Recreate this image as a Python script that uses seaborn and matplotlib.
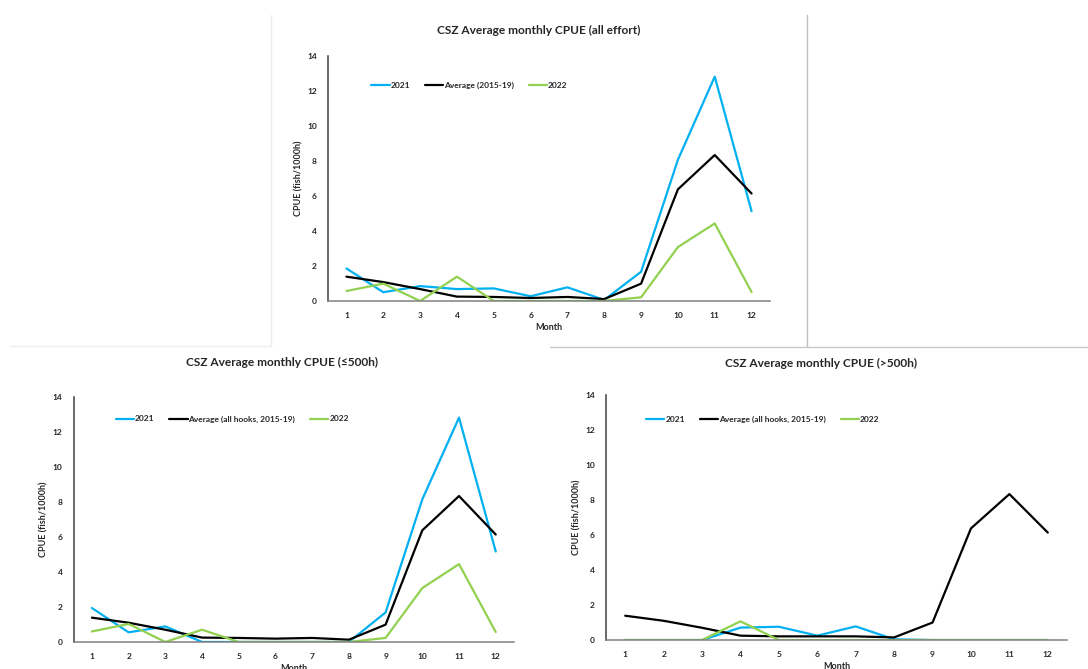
import pandas as pd
import seaborn as sns
import matplotlib.pyplot as plt
from matplotlib.lines import Line2D

months = list(range(1, 13))
colors = ['#00B0F0', '#000000', '#92D050']

# all effort
all_2021 = [1.86, 0.50, 0.85, 0.68, 0.72, 0.27, 0.78, 0.06, 1.67, 8.07, 12.82, 5.13]
all_avg = [1.39, 1.08, 0.68, 0.25, 0.23, 0.17, 0.23, 0.11, 0.99, 6.38, 8.34, 6.14]
all_2022 = [0.57, 0.99, 0.00, 1.39, 0.00, 0.00, 0.00, 0.00, 0.21, 3.08, 4.43, 0.51]

# <=500 hooks
low_2021 = [1.94, 0.55, 0.89, 0.00, 0.00, 0.00, 0.00, 0.00, 1.69, 8.15, 12.82, 5.17]
low_avg = [1.39, 1.10, 0.70, 0.25, 0.23, 0.19, 0.23, 0.13, 0.99, 6.38, 8.34, 6.14]
low_2022 = [0.60, 1.03, 0.00, 0.70, 0.00, 0.00, 0.00, 0.00, 0.23, 3.08, 4.45, 0.57]

# >500 hooks
high_2021 = [0.00, 0.00, 0.00, 0.71, 0.76, 0.25, 0.78, 0.04, 0.00, 0.00, 0.00, 0.00]
high_avg = [1.39, 1.10, 0.70, 0.25, 0.21, 0.21, 0.21, 0.15, 1.00, 6.38, 8.34, 6.14]
high_2022 = [0.00, 0.00, 0.00, 1.07, 0.00, 0.00, 0.00, 0.00, 0.00, 0.00, 0.00, 0.00]

sns.set_style('white')
plt.rcParams['font.family'] = ['Lato', 'DejaVu Sans']
plt.rcParams['font.weight'] = 'bold'


def make_df(a, b, c, avg_label):
    rows = []
    for name, vals in zip(['2021', avg_label, '2022'], [a, b, c]):
        for m, v in zip(months, vals):
            rows.append({'Month': m, 'CPUE': v, 'Series': name})
    return pd.DataFrame(rows)


def draw_panel(ax, df, avg_label, legend_xy):
    order = ['2021', avg_label, '2022']
    sns.lineplot(data=df, x='Month', y='CPUE', hue='Series', hue_order=order,
                 palette=colors, linewidth=1.6, ax=ax)
    ax.set_xlim(0.5, 12.5)
    ax.set_ylim(0, 14)
    ax.set_xticks(months)
    ax.set_yticks(range(0, 15, 2))
    ax.tick_params(length=0, labelsize=6, colors='#262626', pad=8)
    for lab in ax.get_xticklabels() + ax.get_yticklabels():
        lab.set_fontweight('bold')
    ax.set_xlabel('Month', fontsize=6.5, fontweight='bold', color='#262626', labelpad=3)
    ax.set_ylabel('CPUE (fish/1000h)', fontsize=6.5, fontweight='bold', color='#262626', labelpad=3)
    for s in ['top', 'right']:
        ax.spines[s].set_visible(False)
    ax.spines['left'].set_color('#404040')
    ax.spines['bottom'].set_color('#808080')
    ax.spines['left'].set_linewidth(1.1)
    ax.spines['bottom'].set_linewidth(1.1)
    ax.legend(loc='center', bbox_to_anchor=legend_xy, ncol=3, frameon=False,
              handlelength=2.2, handletextpad=0.1, columnspacing=1.8,
              prop={'size': 6, 'weight': 'bold'})


fig = plt.figure(figsize=(10.88, 6.69), dpi=100)

ax_top = fig.add_axes([0.3015, 0.5501, 0.4062, 0.3662])
ax_low = fig.add_axes([0.0676, 0.0404, 0.4049, 0.3662])
ax_high = fig.add_axes([0.5570, 0.0433, 0.4237, 0.3662])

draw_panel(ax_top, make_df(all_2021, all_avg, all_2022, 'Average (2015-19)'),
           'Average (2015-19)', (0.32, 0.88))
draw_panel(ax_low, make_df(low_2021, low_avg, low_2022, 'Average (all hooks, 2015-19)'),
           'Average (all hooks, 2015-19)', (0.36, 0.91))
draw_panel(ax_high, make_df(high_2021, high_avg, high_2022, 'Average (all hooks, 2015-19)'),
           'Average (all hooks, 2015-19)', (0.34, 0.90))

fig.text(0.4954, 0.9537, 'CSZ Average monthly CPUE (all effort)', ha='center', va='center',
         fontsize=8.6, fontweight='bold', color='#262626')
fig.text(0.259, 0.4589, 'CSZ Average monthly CPUE (\u2264500h)', ha='center', va='center',
         fontsize=8.6, fontweight='bold', color='#262626')
fig.text(0.7546, 0.4560, 'CSZ Average monthly CPUE (>500h)', ha='center', va='center',
         fontsize=8.6, fontweight='bold', color='#262626')

# panel borders left over from the pasted screenshots
W, H = 1088, 669
def pix_line(x0, y0, x1, y1, color):
    fig.add_artist(Line2D([x0 / W, x1 / W], [1 - y0 / H, 1 - y1 / H],
                          transform=fig.transFigure, color=color, linewidth=1.0))

pix_line(271, 15, 271, 346, '#EEEEEE')
pix_line(10, 346, 271, 346, '#EEEEEE')
pix_line(807, 15, 807, 347, '#BFBFBF')
pix_line(550, 347, 1088, 347, '#C8C8C8')

fig.savefig('out.png', dpi=100, facecolor='white')
